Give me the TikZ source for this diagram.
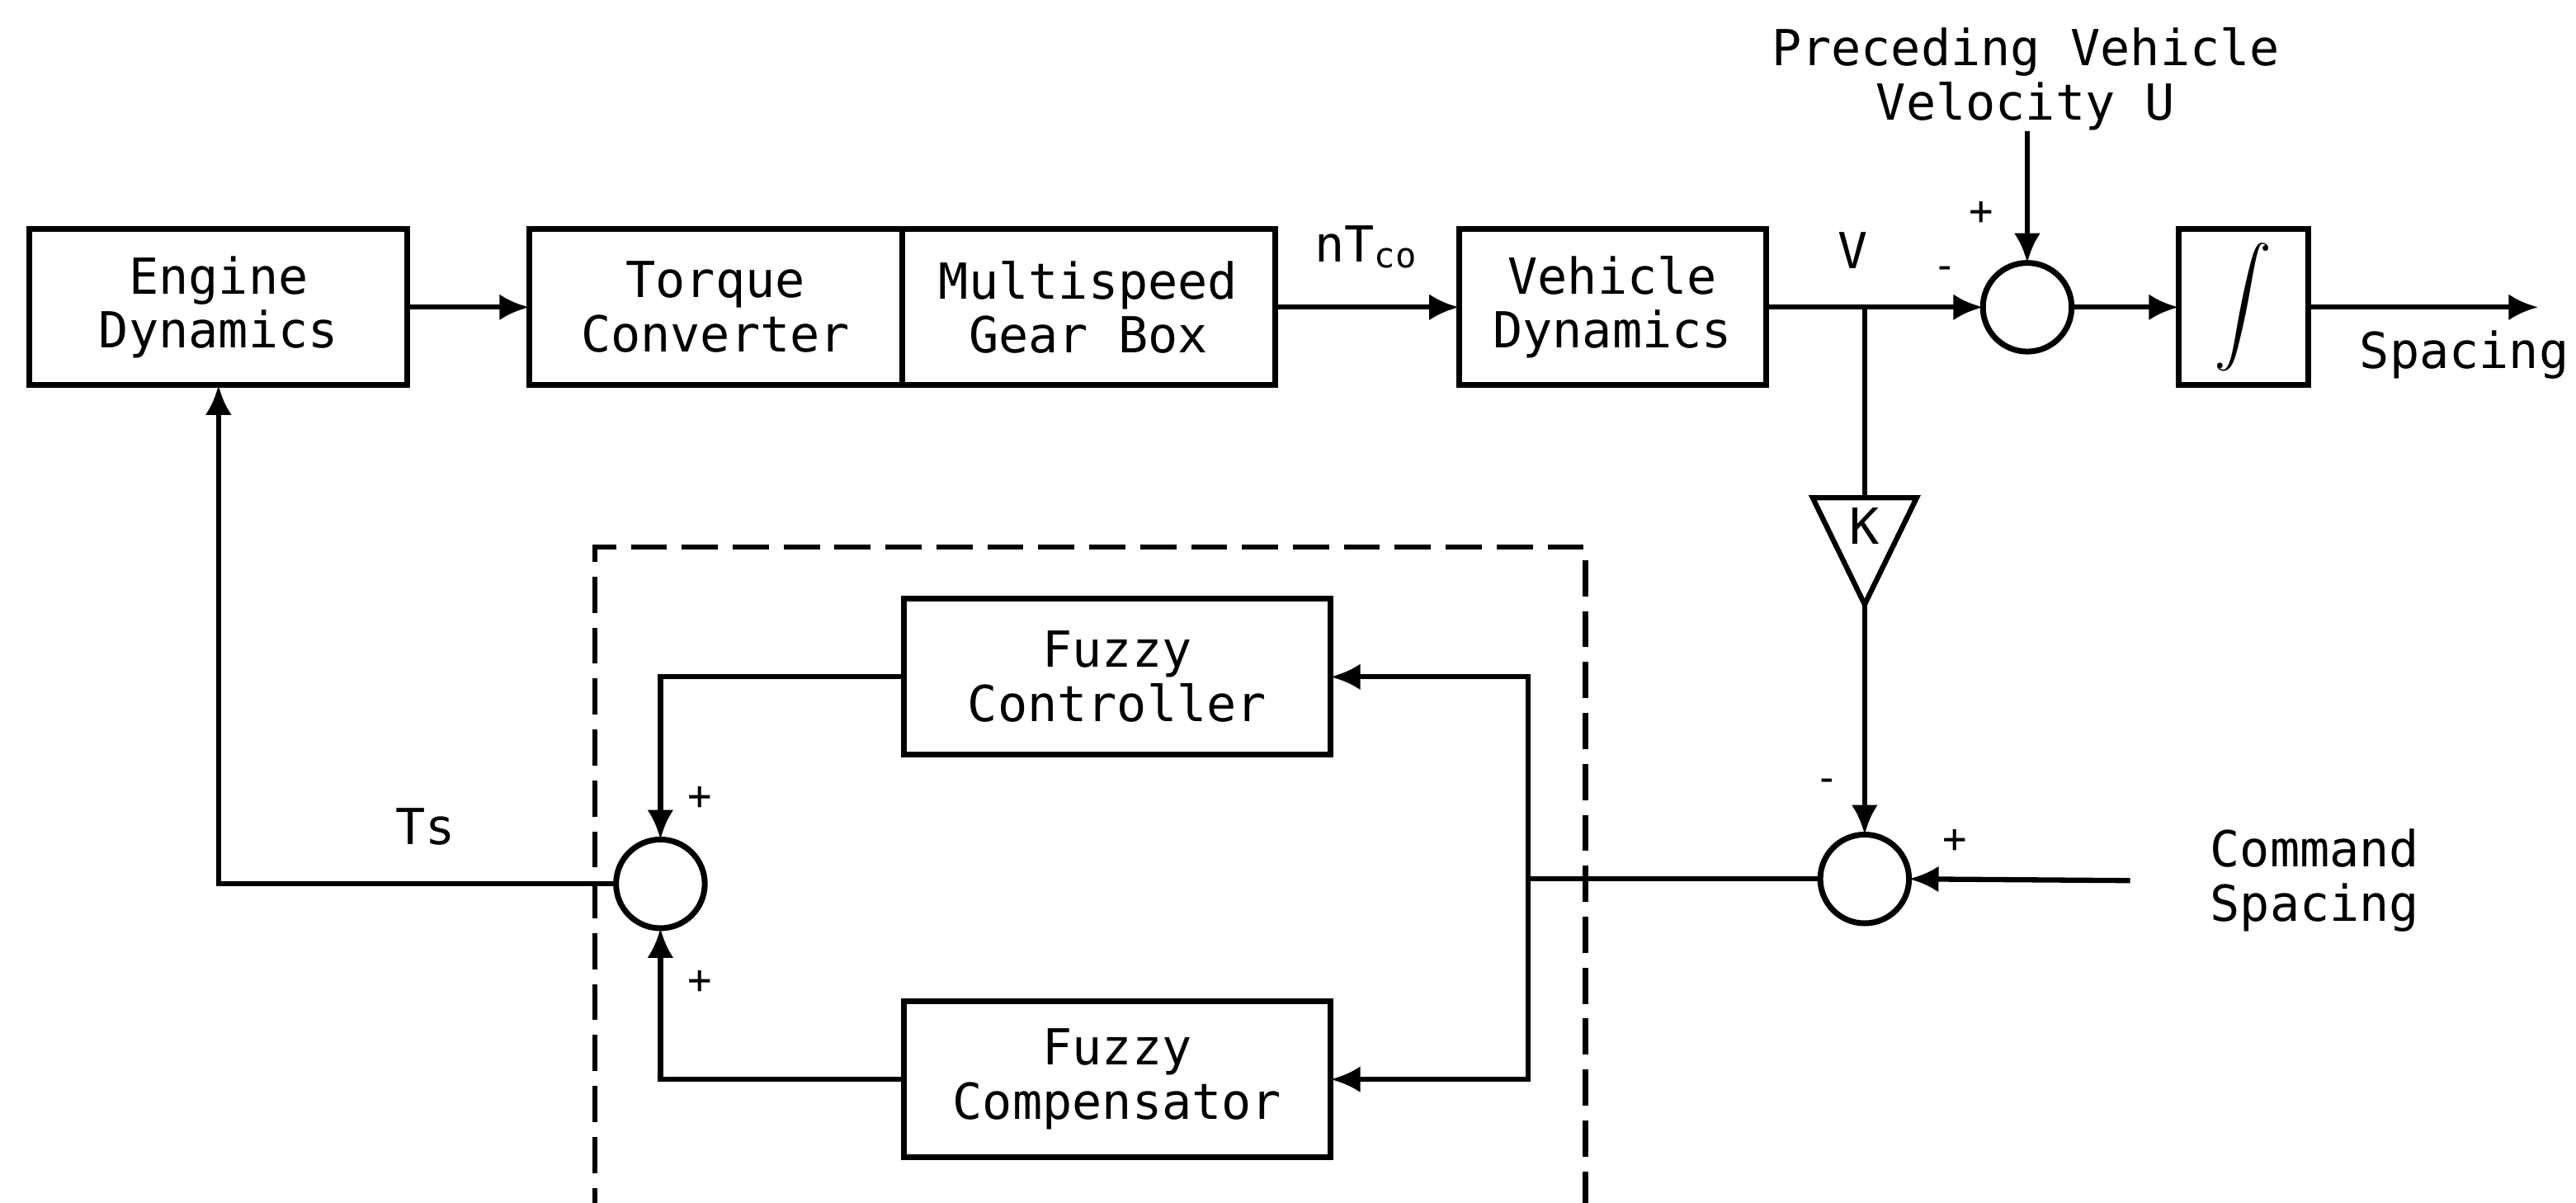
\documentclass[tikz,border=0pt]{standalone}
\usepackage{fontspec}
\setmainfont{DejaVu Sans Mono}
\usetikzlibrary{positioning,arrows.meta,shapes.geometric}

\begin{document}
\begin{tikzpicture}[
  x=0.1mm,y=-0.1mm,
  node distance=7.4mm,
  blockbox/.style={draw,line width=1pt,outer sep=0pt,minimum width=23mm,minimum height=9.5mm,align=center,inner sep=1pt,font=\fontsize{8.6}{9.4}\selectfont},
  sumnode/.style={draw,circle,line width=1pt,outer sep=0pt,minimum size=5.4mm,inner sep=0pt},
  gainbox/.style={draw,isosceles triangle,isosceles triangle apex angle=52,shape border rotate=270,line width=0.9pt,outer sep=0pt,inner sep=1.7pt,font=\fontsize{8.6}{9.4}\selectfont},
  arr/.style={-{Latex[length=1.8mm,width=1.6mm]},line width=0.9pt},
  wire/.style={line width=0.9pt},
  lbl/.style={align=center,inner sep=0pt,font=\fontsize{8.6}{9.4}\selectfont},
  sgn/.style={inner sep=0pt,font=\fontsize{7}{7}\selectfont}
]
\useasboundingbox (0,0) rectangle (1568,732);

% forward path
\node[blockbox] (eng) at (133,187) {Engine\\Dynamics};
\node[blockbox,minimum width=22.7mm,right=7.4mm of eng] (tq) {Torque\\Converter};
\node[blockbox,minimum width=22.7mm,right=0pt of tq] (gear) {Multispeed\\Gear Box};
\node[blockbox,minimum width=18.7mm,right=11.2mm of gear] (veh) {Vehicle\\Dynamics};
\node[sumnode,right=13.2mm of veh] (sum1) {};
\node[blockbox,minimum width=7.9mm,right=6.5mm of sum1] (integ) {$\displaystyle\int$};
\node[lbl] (prec) at (1233,48) {Preceding Vehicle\\Velocity U};
\node[lbl] (spc) at (1500,216) {Spacing};
\coordinate (yout) at (1545,0 |- integ.east);

% spacing loop
\node[gainbox,anchor=north] (gain) at (1135,303) {K};
\coordinate (vbr) at (gain.north |- veh.east);
\node[sumnode] (sum2) at (1135,535) {};
\node[lbl] (cmd) at (1409,536) {Command\\Spacing};

% fuzzy part
\node[blockbox,minimum width=26mm] (fctrl) at (680,412) {Fuzzy\\Controller};
\node[blockbox,minimum width=26mm,below=15mm of fctrl] (fcomp) {Fuzzy\\Compensator};
\node[sumnode] (sum3) at (402,538) {};
\coordinate (split) at (930,0 |- sum2.west);

\draw[arr] (eng) -- (tq);
\draw[arr] (gear) -- node[lbl,above=2.2mm] {nT\textsubscript{co}} (veh);
\draw[arr] (veh) -- node[lbl,pos=0.4,above=2.2mm] {V} (sum1);
\draw[arr] (prec.south -| sum1.north) -- (sum1.north);
\draw[arr] (sum1) -- (integ);
\draw[arr] (integ) -- (yout);
\draw[wire] (vbr) -- (gain.north);
\draw[arr] (gain.apex) -- (sum2.north);
\draw[arr] ([xshift=-4.8mm]cmd.west) -- (sum2.east);
\draw[wire] (sum2.west) -- (split);
\draw[arr] (split) |- (fctrl.east);
\draw[arr] (split) |- (fcomp.east);
\draw[arr] (fctrl.west) -| (sum3.north);
\draw[arr] (fcomp.west) -| (sum3.south);
\draw[arr] (sum3.west) -| node[lbl,pos=0.24,above=2.2mm] {Ts} (eng.south);

% signs
\node[sgn] (p1) at (1206,130) {+};
\node[sgn] (m1) at (1184,166) {-};
\node[sgn] (m2) at (1112,478) {-};
\node[sgn] (p2) at (1190,512) {+};
\node[sgn] (p3) at (426,486) {+};
\node[sgn] (p4) at (426,598) {+};

\draw[line width=0.9pt,dash pattern=on 2.2mm off 0.9mm] (362,745) -- (362,333) -- (965,333) -- (965,745);
\end{tikzpicture}
\end{document}
